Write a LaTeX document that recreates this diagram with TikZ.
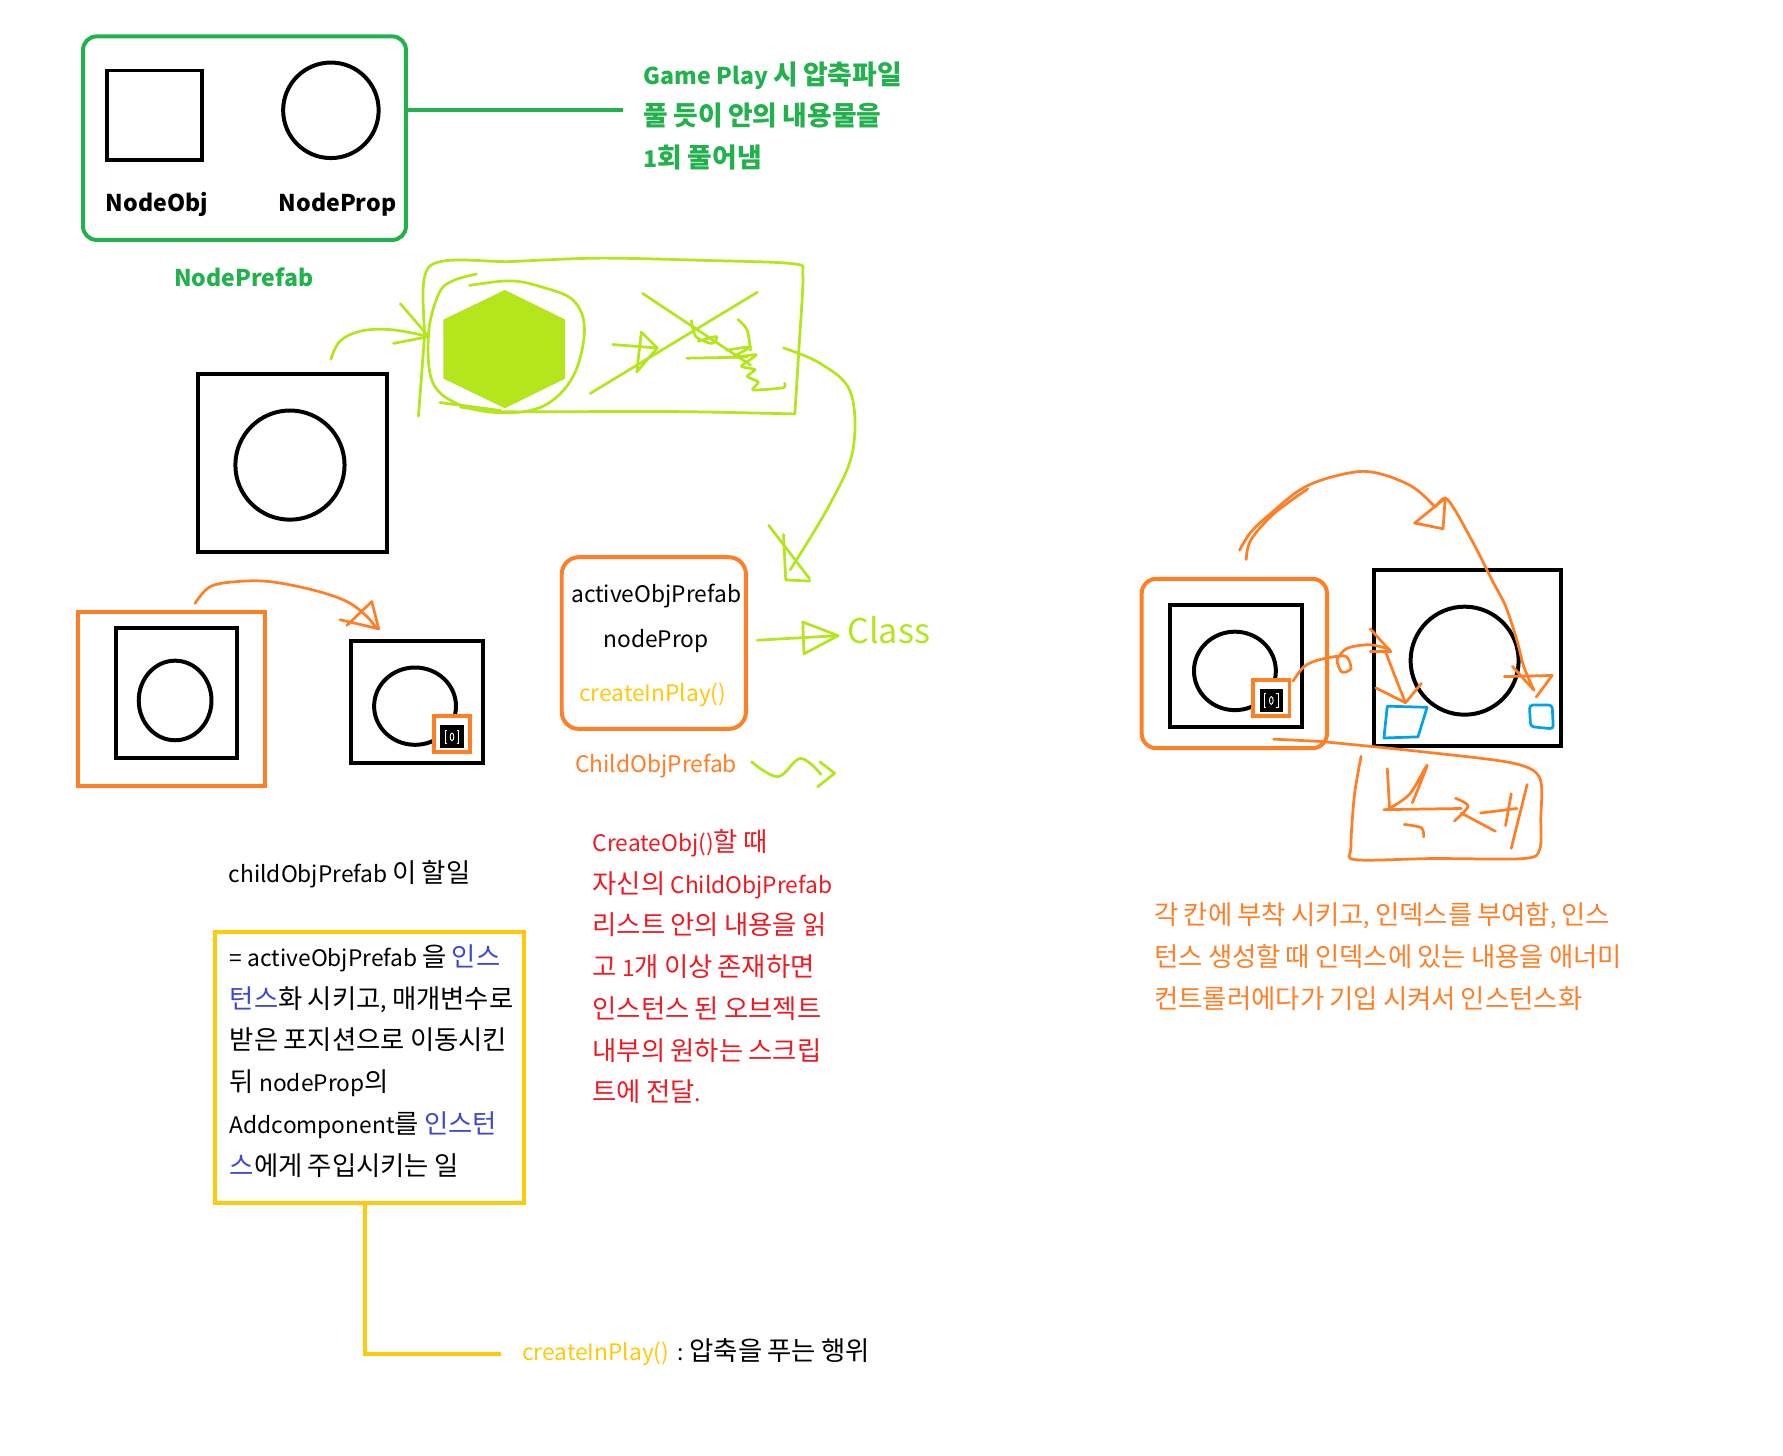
\documentclass[tikz,border=0pt]{standalone}
\usepackage{fontspec}
\setmainfont{Noto Sans CJK KR}
\newfontfamily\krfamily[Scale=1.16]{Noto Sans CJK KR}
\XeTeXinterchartokenstate=1
\newXeTeXintercharclass\KRclass
\makeatletter
\@tempcnta="AC00
\loop\ifnum\@tempcnta<"D7A4 \XeTeXcharclass\@tempcnta=\KRclass \advance\@tempcnta by 1 \repeat
\makeatother
\XeTeXinterchartoks 0 \KRclass = {\begingroup\krfamily}
\XeTeXinterchartoks 4095 \KRclass = {\begingroup\krfamily}
\XeTeXinterchartoks \KRclass 0 = {\endgroup}
\XeTeXinterchartoks \KRclass 4095 = {\endgroup}
\definecolor{pgreen}{HTML}{22B14C}
\definecolor{plime}{HTML}{B5E61D}
\definecolor{porange}{HTML}{FF7F27}
\definecolor{pyellow}{HTML}{FFC90E}
\definecolor{pred}{HTML}{ED1C24}
\definecolor{pblue}{HTML}{3F48CC}
\definecolor{psky}{HTML}{00A2E8}
\begin{document}
\begin{tikzpicture}[x=1pt,y=-1pt,
  blk/.style={draw=black, line width=3.5pt},
  ink/.style={line width=2.4pt, line cap=round, line join=round},
  txt/.style={inner sep=0pt, anchor=base west, font=\fontsize{20}{25}\selectfont},
  btxt/.style={inner sep=0pt, anchor=base west, font=\fontsize{20.3}{26}\selectfont\bfseries},
  boxnode/.style={line width=3.5pt, inner sep=0pt},
  icon/.style={draw=white, line width=0.8pt}]
\useasboundingbox[fill=white] (0,0) rectangle (1568,1280);

% ---------- NodePrefab group ----------
\node[boxnode, draw=pgreen, rounded corners=12pt, minimum width=284pt, minimum height=179pt] (prefab) at (215,121.5) {};
\draw[blk] (94,62) rectangle (178,141);
\draw[blk] (291,97) circle[radius=42];
\node[btxt] (nobj) at (93,186) {NodeObj};
\node[btxt] (nprop) at (245,186) {NodeProp};
\node[btxt, text=pgreen] (npre) at (153,252) {NodePrefab};
\coordinate (gend) at (548,97);
\draw[pgreen, line width=3.5pt] (prefab.east |- gend) -- (gend);
\node[btxt, text=pgreen] (gp1) at (566,74) {Game Play 시 압축파일};
\node[btxt, text=pgreen] (gp2) at (566,110) {풀 듯이 안의 내용물을};
\node[btxt, text=pgreen] (gp3) at (566,147) {1회 풀어냄};

% ---------- second square ----------
\draw[blk] (174,329) rectangle (340,485);
\draw[blk] (255,409) circle[radius=48];

% ---------- lime sketch ----------
\fill[plime] (444,255) -- (497,281) -- (497,333) -- (444,359) -- (390,333) -- (390,281) -- cycle;
\draw[plime, ink] plot[smooth, tension=0.5] coordinates {(368,366) (373,300) (378,234) (450,230) (528,227) (620,229) (698,232) (706,242) (703,300) (699,364)};
\draw[plime, ink] plot[smooth, tension=0.4] coordinates {(699,364) (600,362) (500,362) (440,362) (405,358)};
\draw[plime, ink] plot[smooth, tension=0.6] coordinates {(419,241) (398,247) (386,258) (377,292) (380,335) (402,355) (440,363) (478,357) (504,331) (514,290) (504,264) (475,252) (448,247) (413,251)};
\draw[plime, ink] (387,354) -- (440,361);
% arrow into sketch
\draw[plime, ink] plot[smooth, tension=0.6] coordinates {(291,316) (299,300) (318,291) (345,290) (377,296)};
\draw[plime, ink] (352,267) -- (377,296) -- (346,302);
% crossed out arrow
\draw[plime, ink] (539,303) -- (578,306);
\draw[plime, ink] (564,292) -- (578,306) -- (560,327) -- cycle;
\draw[plime, ink] (565,258) -- (660,321);
\draw[plime, ink] (666,257) -- (519,346);
\draw[plime, ink] plot[smooth, tension=0.5] coordinates {(649,281) (657,290) (660,308)};
\draw[plime, ink] (604,315) -- (657,314);
\draw[plime, ink] plot[smooth, tension=0.5] coordinates {(608,282) (612,296) (626,302) (630,296) (614,300)};
\draw[plime, ink] plot[smooth, tension=0.3] coordinates {(639,308) (660,305) (645,314) (665,312) (652,322) (664,325) (657,331) (667,336) (662,343) (689,341) (690,337)};
% long curved arrow down to class box
\draw[plime, ink] plot[smooth, tension=0.6] coordinates {(689,306) (722,320) (748,345) (750,396) (730,443) (695,501)};
\draw[plime, ink] (676,462) -- (712,509);
\draw[plime, ink] (689,470) -- (691,510) -- (712,511);

% ---------- class box ----------
\node[boxnode, draw=porange, rounded corners=15pt, minimum width=162pt, minimum height=151pt] (cls) at (575,565.5) {};
\node[txt, anchor=base] (ao) at (577,530) {activeObjPrefab};
\node[txt, anchor=base] (nprp) at (577,569) {nodeProp};
\node[txt, anchor=base, text=pyellow] (cip) at (574,617) {createInPlay()};
\node[txt, anchor=base, text=porange] (cop) at (577,679) {ChildObjPrefab};
\coordinate (clsa) at (666,563);
\coordinate (clsb) at (737,559);
\draw[plime, ink] (clsa) -- (clsb);
\draw[plime, ink] (706,547) -- (clsb) -- (707,575) -- cycle;
\node[inner sep=0pt, anchor=base west, text=plime, font=\fontsize{30}{30}\selectfont] (clsword) at (745,566) {Class};
\draw[plime, ink] plot[smooth, tension=0.6] coordinates {(661,670) (684,683) (704,667) (722,681)};
\draw[plime, ink] (721,670) -- (734,680) -- (719,692);

% ---------- orange left pair ----------
\draw[porange, line width=3.5pt] (69,538) rectangle (233,691);
\draw[blk] (102,552) rectangle (208,667);
\draw[blk] (154,616) ellipse[x radius=32, y radius=35];
\draw[porange, ink] plot[smooth, tension=0.6] coordinates {(171.5,530.6) (184.7,516) (208,511.5) (237.4,511.5) (275.5,518.9) (305,529) (322.5,542) (331,552.5)};
\draw[porange, ink] (299,545) -- (333,553) -- (327,529) -- (305,550);
\draw[blk] (309,564) rectangle (425,671);
\draw[blk] (365,621) ellipse[x radius=36, y radius=34];
\filldraw[fill=white, draw=porange, line width=3.5pt] (382,630) rectangle (413,661);
\fill[black] (387,638) rectangle (408,658);
\draw[icon] (393,642) -- (391.5,642) -- (391.5,654) -- (393,654);
\draw[icon] (402,642) -- (403.5,642) -- (403.5,654) -- (402,654);
\draw[icon] (397.5,648) ellipse[x radius=1.6, y radius=3.4];

% ---------- texts left ----------
\node[txt] (todo) at (201,776) {childObjPrefab 이 할일};
\node[boxnode, draw=pyellow, minimum width=272pt, minimum height=238pt] (ybox) at (325,939) {};
\node[txt] (y1) at (202,850) {= activeObjPrefab 을 \textcolor{pblue}{인스}};
\node[txt] (y2) at (202,887) {\textcolor{pblue}{턴스}화 시키고, 매개변수로};
\node[txt] (y3) at (202,923) {받은 포지션으로 이동시킨};
\node[txt] (y4) at (202,960) {뒤 nodeProp의};
\node[txt] (y5) at (202,997) {Addcomponent를 \textcolor{pblue}{인스턴}};
\node[txt] (y6) at (202,1034) {\textcolor{pblue}{스}에게 주입시키는 일};
\coordinate (ycorner) at (321,1191);
\coordinate (yend) at (441,1191);
\draw[pyellow, line width=3.5pt] (ybox.south -| ycorner) -- (ycorner) -- (yend);
\node[txt, text=pyellow] (cip2) at (459,1196) {createInPlay()};
\node[txt] (cip3) at (cip2.base east) {\hspace{7pt}:\hspace{5pt}압축을 푸는 행위};

\node[txt, text=pred] (r1) at (521,749) {CreateObj()할 때};
\node[txt, text=pred] (r2) at (521,786) {자신의 ChildObjPrefab};
\node[txt, text=pred] (r3) at (521,822) {리스트 안의 내용을 읽};
\node[txt, text=pred] (r4) at (521,859) {고 1개 이상 존재하면};
\node[txt, text=pred] (r5) at (521,896) {인스턴스 된 오브젝트};
\node[txt, text=pred] (r6) at (521,933) {내부의 원하는 스크립};
\node[txt, text=pred] (r7) at (521,969) {트에 전달.};

% ---------- right group ----------
\node[boxnode, draw=porange, rounded corners=13pt, minimum width=163pt, minimum height=149pt] (rbox) at (1085.5,583.5) {};
\draw[blk] (1029,532) rectangle (1145,639);
\draw[blk] (1086,590) ellipse[x radius=36, y radius=34.5];
\filldraw[fill=white, draw=porange, line width=3.5pt] (1102,598) rectangle (1134,630);
\fill[black] (1108,606) rectangle (1128,626);
\draw[icon] (1113.5,610) -- (1112,610) -- (1112,622) -- (1113.5,622);
\draw[icon] (1122.5,610) -- (1124,610) -- (1124,622) -- (1122.5,622);
\draw[icon] (1118,616) ellipse[x radius=1.6, y radius=3.4];
\draw[blk] (1208,501) rectangle (1373,656);
\draw[blk] (1288,581) circle[radius=47.5];
\draw[psky, line width=2.4pt, line join=round] (1220,621) -- (1255,622) -- (1247,648) -- (1217,649) -- cycle;
\draw[psky, line width=2.4pt, rounded corners=3pt] (1345,620) -- (1365,620) -- (1366,641) -- (1346,639) -- cycle;
% big arc arrow
\draw[porange, ink] plot[smooth, tension=0.6] coordinates {(1090,484) (1100,468) (1117,452) (1148,428) (1186,416) (1211,416) (1242,428) (1262,446)};
\draw[porange, ink] plot[smooth, tension=0.6] coordinates {(1096,492) (1100,475) (1120,452) (1150,430)};
\draw[porange, ink] (1271,438) -- (1244,460) -- (1269,465) -- cycle;
\draw[porange, ink] plot[smooth, tension=0.5] coordinates {(1262,446) (1271,438) (1281,451) (1299,484) (1312,510) (1324,533) (1334,563) (1340,586) (1349,607)};
\draw[porange, ink] (1323,595) -- (1365,594) -- (1351,613);
\draw[porange, ink] (1330,586) -- (1349,607);
% small arrow from slot
\draw[porange, ink] plot[smooth, tension=0.5] coordinates {(1137,599) (1147,586) (1161,580) (1183,577) (1188,588) (1180,591) (1176,580) (1185,570) (1205,567) (1222,571)};
\draw[porange, ink] (1205,553) -- (1223,573) -- (1205,573);
\draw[porange, ink] plot[smooth, tension=0.5] coordinates {(1218,572) (1228,598) (1236,618)};
\draw[porange, ink] (1210,605) -- (1236,618) -- (1250,601);
% bottom sketch box
\draw[porange, ink] (1120,650) -- (1161,652);
\draw[porange, ink] plot[smooth, tension=0.5] coordinates {(1161,652) (1250,661) (1330,671) (1354,684) (1355,720) (1354,747) (1340,755) (1260,755) (1192,756) (1188,745) (1191,700) (1197,665)};
\draw[porange, ink] (1220,676) -- (1222,711);
\draw[porange, ink] plot[smooth, tension=0.5] coordinates {(1222,711) (1240,698) (1255,673) (1242,706)};
\draw[porange, ink] (1217,712) -- (1285,711);
\draw[porange, ink] plot[smooth, tension=0.5] coordinates {(1280,702) (1291,709) (1279,722)};
\draw[porange, ink] (1285,715) -- (1315,731);
\draw[porange, ink] (1302,715) -- (1334,711);
\draw[porange, ink] (1329,698) -- (1324,726);
\draw[porange, ink] (1343,690) -- (1329,746);
\draw[porange, ink] plot[smooth, tension=0.5] coordinates {(1235,725) (1250,728) (1252,736)};
\node[txt, text=porange] (o1) at (1015,813) {각 칸에 부착 시키고, 인덱스를 부여함, 인스};
\node[txt, text=porange] (o2) at (1015,850) {턴스 생성할 때 인덱스에 있는 내용을 애너미};
\node[txt, text=porange] (o3) at (1015,887) {컨트롤러에다가 기입 시켜서 인스턴스화};
\end{tikzpicture}
\end{document}
